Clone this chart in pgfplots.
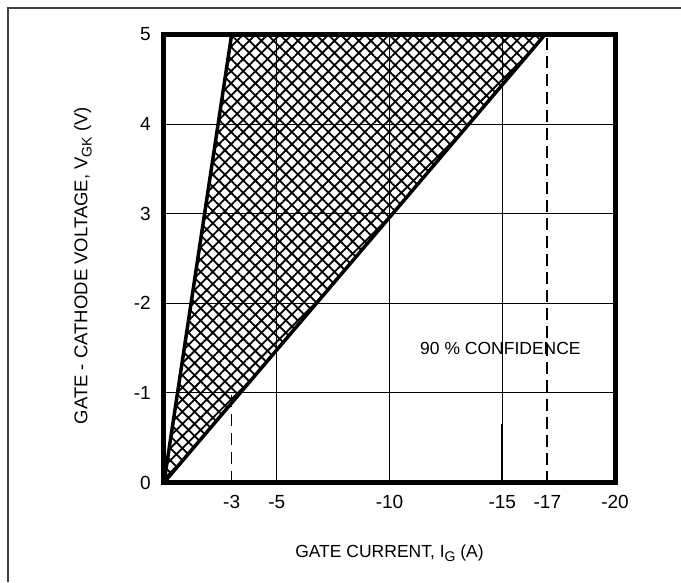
\documentclass[border=0pt]{standalone}
\usepackage{fontspec}
\setmainfont{Liberation Sans}
\usepackage{pgfplots}
\pgfplotsset{compat=1.18}
\usetikzlibrary{patterns.meta}
\newcommand{\sub}[1]{\raisebox{-0.45ex}{\fontsize{14}{14}\selectfont #1}}

\begin{document}
\begin{tikzpicture}[x=1pt,y=1pt]
\useasboundingbox (0,0) rectangle (681,582);
% figure frame
\draw[line width=1.5pt, black!75] (8,0) -- (8,574) -- (681,574);
\begin{axis}[
  at={(164pt,99.5pt)}, anchor=south west,
  scale only axis, width=451pt, height=448pt,
  xmin=0, xmax=20, ymin=0, ymax=5,
  axis on top,
  axis line style={line width=5pt},
  xtick={5,10,15}, xticklabels={-5,-10,-15},
  extra x ticks={3,17,20}, extra x tick labels={-3,-17,-20},
  ytick={1,2,3,4}, yticklabels={-1,-2,3,4},
  extra y ticks={0,5}, extra y tick labels={0,5},
  extra x tick style={grid=none},
  extra y tick style={grid=none},
  grid=major, major grid style={line width=1pt, black},
  major tick length=0pt,
  tick label style={font=\fontsize{19}{19}\selectfont},
  /pgf/number format/assume math mode=true,
  xticklabel style={anchor=center, yshift=-19.5pt},
  yticklabel style={anchor=east, inner sep=0pt, xshift=-13pt},
  xlabel={GATE CURRENT, I\sub{G} (A)},
  ylabel={GATE - CATHODE VOLTAGE, V\sub{GK} (V)},
  xlabel style={at={(axis description cs:0.5,-0.157)}, anchor=center,
    font=\fontsize{17.5}{17.5}\selectfont},
  ylabel style={at={(axis description cs:-0.18,0.484)}, anchor=center,
    font=\fontsize{18.5}{18.5}\selectfont},
]
% crosshatched confidence band
\addplot[draw=none, pattern={Hatch[angle=45, distance=8.6pt, line width=1.8pt]},
  pattern color=black] coordinates {(0,0) (3,5) (16.9,5) (0,0)};
% band limits
\addplot[line width=3.5pt] coordinates {(0,0) (3,5)};
\addplot[line width=3.5pt] coordinates {(0,0) (16.9,5)};
% reference currents
\addplot[line width=2pt, dash pattern=on 12pt off 6pt] coordinates {(17,0) (17,5)};
\addplot[line width=1.5pt, dash pattern=on 12pt off 7pt] coordinates {(3,0) (3,1)};
\addplot[line width=2pt] coordinates {(15,0) (15,0.65)};
\node[font=\fontsize{17.5}{17.5}\selectfont] at (axis cs:14.92,1.5) {90 \% CONFIDENCE};
\end{axis}
\end{tikzpicture}
\end{document}
